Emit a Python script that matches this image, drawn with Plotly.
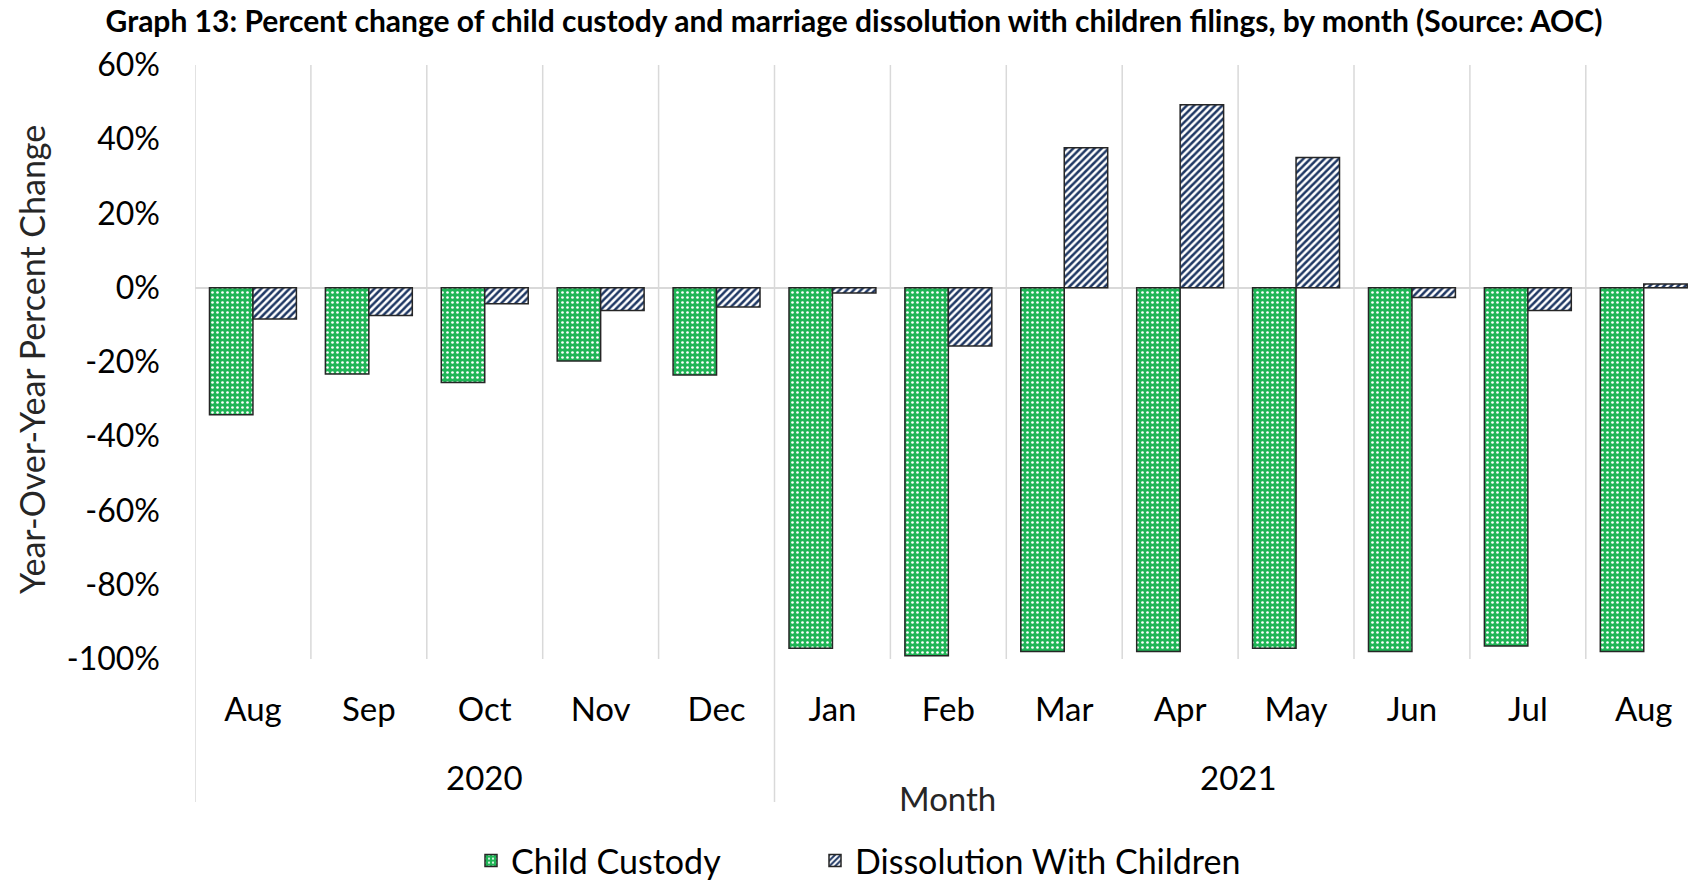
import plotly.graph_objects as go

months = ["Aug", "Sep", "Oct", "Nov", "Dec", "Jan", "Feb", "Mar", "Apr", "May", "Jun", "Jul", "Aug"]
years = ["2020", "2021"]
year_counts = [5, 8]
child_custody = [-34.2, -23.2, -25.5, -19.7, -23.5, -97.1, -99.1, -98.0, -98.0, -97.1, -98.0, -96.5, -98.0]
dissolution = [-8.4, -7.5, -4.3, -6.1, -5.2, -1.4, -15.7, 37.7, 49.3, 35.1, -2.6, -6.1, 1.0]
y_ticks = [-100, -80, -60, -40, -20, 0, 20, 40, 60]

FONT = "Lato"
W, H = 1688, 883
ML, MR, MT, MB = 195, 0, 65, 224
plot_h = H - MT - MB

x = list(range(len(months)))

fig = go.Figure()
fig.add_trace(go.Bar(
    x=x, y=child_custody, name="Child Custody", legend="legend", showlegend=True,
    marker=dict(color="#1FB556", line=dict(color="#262626", width=1.5),
                pattern=dict(shape=".", fgcolor="white", bgcolor="#1FB556", size=5, solidity=0.22, fillmode="replace")),
))
fig.add_trace(go.Bar(
    x=x, y=dissolution, name="Dissolution With Children", legend="legend2", showlegend=True,
    marker=dict(color="white", line=dict(color="#262626", width=1.5),
                pattern=dict(shape="/", fgcolor="#1F3864", bgcolor="white", size=5, solidity=0.5, fillmode="replace")),
))

shapes = []
n = len(months)
year_bounds = [-0.5]
acc = -0.5
for c in year_counts:
    acc += c
    year_bounds.append(acc)
for i in range(n):
    b = i - 0.5
    is_year = any(abs(b - yb) < 1e-9 for yb in year_bounds)
    y0 = -(802 - (H - MB)) / plot_h if is_year else 0
    shapes.append(dict(type="line", xref="x", yref="paper", x0=b, x1=b, y0=y0, y1=1,
                       line=dict(color="#d9d9d9", width=1.5)))

annotations = []
start = -0.5
for yr, c in zip(years, year_counts):
    annotations.append(dict(text=yr, x=start + c / 2, xref="x", y=-(777 - (H - MB)) / plot_h, yref="paper",
                            showarrow=False, font=dict(family=FONT, size=33, color="black"),
                            xanchor="center", yanchor="middle"))
    start += c
annotations.append(dict(text="Month", x=(948 - ML) / (W - ML - MR), xref="paper",
                        y=-(798 - (H - MB)) / plot_h, yref="paper", showarrow=False,
                        font=dict(family=FONT, size=33, color="#262626"), xanchor="center", yanchor="middle"))
annotations.append(dict(text="Year-Over-Year Percent Change", textangle=-90,
                        x=(31 - ML) / (W - ML - MR), xref="paper", y=(H - MB - 360) / plot_h, yref="paper",
                        showarrow=False, font=dict(family=FONT, size=34, color="#262626"),
                        xanchor="center", yanchor="middle"))

legend_common = dict(orientation="h", xref="container", xanchor="left", yref="container", yanchor="middle",
                     y=1 - 861 / H, font=dict(family=FONT, size=34, color="black"), bgcolor="rgba(0,0,0,0)")

fig.update_layout(
    width=W, height=H, showlegend=True,
    margin=dict(l=ML, r=MR, t=MT, b=MB),
    paper_bgcolor="white", plot_bgcolor="white",
    barmode="group", bargap=0.25, bargroupgap=0,
    title=dict(text="<b>Graph 13: Percent change of child custody and marriage dissolution with children filings, by month (Source: AOC)</b>",
               x=854 / W, xref="container", xanchor="center", y=1 - 21.5 / H, yref="container", yanchor="middle",
               font=dict(family=FONT, size=30, color="black")),
    xaxis=dict(range=[-0.5, (W - ML) / 115.9 - 0.5], tickvals=x, ticktext=months, showgrid=False,
               zeroline=False, showline=False, ticks="", ticklabelstandoff=28,
               tickfont=dict(family=FONT, size=33, color="black")),
    yaxis=dict(range=[-100, 60], tickvals=y_ticks, ticktext=[f"{v}%" for v in y_ticks], showgrid=False,
               zeroline=True, zerolinecolor="#d9d9d9", zerolinewidth=1.5, showline=False,
               ticks="", ticklabelstandoff=34, tickfont=dict(family=FONT, size=32, color="black")),
    legend=dict(x=471 / W, **legend_common),
    legend2=dict(x=815 / W, **legend_common),
    shapes=shapes, annotations=annotations,
)

fig.write_html("out.html")
